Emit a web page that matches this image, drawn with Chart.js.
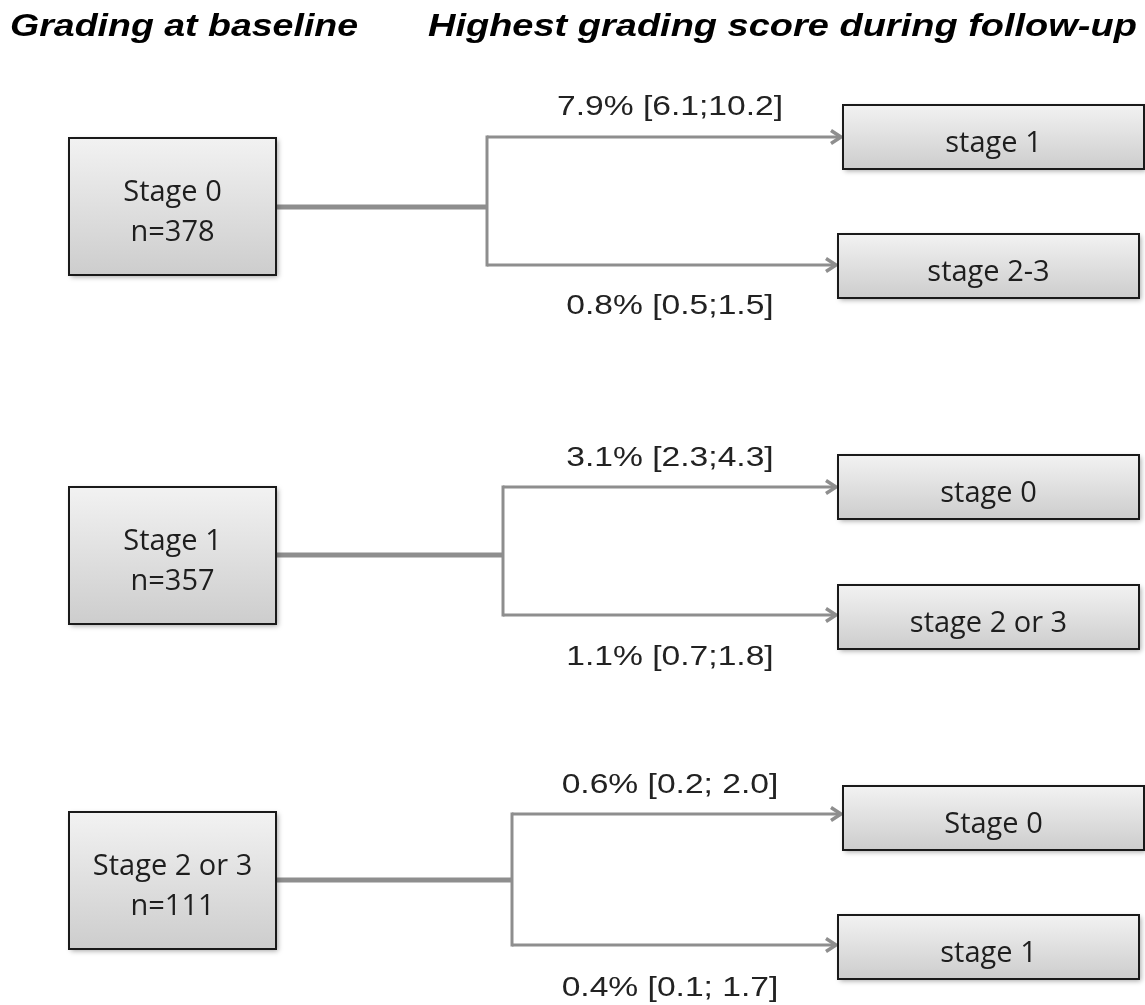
<!DOCTYPE html>
<html>
<head>
<meta charset="utf-8">
<script src="https://cdn.jsdelivr.net/npm/chart.js@4"></script>
<style>
    body { margin: 0; background: #fff; }
    #wrap { width: 1145px; height: 1005px; position: relative; }
</style>
</head>
<body>
<div id="wrap"><canvas id="flowChart"></canvas></div>
<script>
// Data
const baselineStages = ['Stage 0', 'Stage 1', 'Stage 2 or 3'];
const baselineN = [378, 357, 111];
const upperTargets = ['stage 1', 'stage 0', 'Stage 0'];
const lowerTargets = ['stage 2-3', 'stage 2 or 3', 'stage 1'];
const upperLabels = ['7.9% [6.1;10.2]', '3.1% [2.3;4.3]', '0.6% [0.2; 2.0]'];
const lowerLabels = ['0.8% [0.5;1.5]', '1.1% [0.7;1.8]', '0.4% [0.1; 1.7]'];
const headers = ['Grading at baseline', 'Highest grading score during follow-up'];

// Layout (diagram units, same as pixels)
const layout = {
    leftBox: { x: 69, w: 207, h: 137, top: [138, 487, 812] },
    stemY: [207, 555, 880],
    branchX: [487, 503, 512],
    upperY: [137, 487, 814],
    lowerY: [265, 615, 945],
    upperBox: { x: [843, 838, 843], top: [105, 455, 786] },
    lowerBox: { x: [838, 838, 838], top: [234, 585, 915] },
    rightW: 301,
    rightH: 64,
    labelX: 670,
    upperLabelBase: [115, 466, 793],
    lowerLabelBase: [314, 665, 996],
    headerX: [10, 428],
    headerBase: 36
};

const lineColor = '#8e8e8e';

function drawBox(ctx, x0, y0, x1, y1) {
    ctx.save();
    ctx.shadowColor = 'rgba(0,0,0,0.35)';
    ctx.shadowBlur = 5;
    ctx.shadowOffsetX = 2;
    ctx.shadowOffsetY = 2;
    const grad = ctx.createLinearGradient(0, y0, 0, y1);
    grad.addColorStop(0, '#f2f2f2');
    grad.addColorStop(1, '#cdcdcd');
    ctx.fillStyle = grad;
    ctx.fillRect(x0, y0, x1 - x0, y1 - y0);
    ctx.restore();
    ctx.strokeStyle = '#1a1a1a';
    ctx.lineWidth = 2;
    ctx.strokeRect(x0, y0, x1 - x0, y1 - y0);
}

function drawArrow(ctx, x0, y, x1) {
    ctx.beginPath();
    ctx.moveTo(x0, y);
    ctx.lineTo(x1 - 4, y);
    ctx.stroke();
    ctx.save();
    ctx.lineWidth = 3.5;
    ctx.lineJoin = 'miter';
    ctx.beginPath();
    ctx.moveTo(x1 - 12, y - 6.5);
    ctx.lineTo(x1 - 2, y);
    ctx.lineTo(x1 - 12, y + 6.5);
    ctx.stroke();
    ctx.restore();
}

// Horizontally stretched text, like the original figure
function wideText(ctx, text, x, y, align, stretch) {
    ctx.save();
    ctx.translate(x, y);
    ctx.scale(stretch, 1);
    ctx.textAlign = align;
    ctx.fillText(text, 0, 0);
    ctx.restore();
}

const flowPlugin = {
    id: 'flow',
    afterDraw(chart) {
        const ctx = chart.ctx;
        const sx = v => chart.scales.x.getPixelForValue(v);
        const sy = v => chart.scales.y.getPixelForValue(v);
        ctx.save();

        // Headers
        ctx.fillStyle = '#000';
        ctx.font = 'italic bold 31px "Liberation Sans", Arial, sans-serif';
        ctx.textBaseline = 'alphabetic';
        wideText(ctx, headers[0], sx(layout.headerX[0]), sy(layout.headerBase), 'left', 1.21);
        wideText(ctx, headers[1], sx(layout.headerX[1]), sy(layout.headerBase), 'left', 1.225);

        baselineStages.forEach((stage, i) => {
            const lb = layout.leftBox;
            const bx0 = sx(lb.x), bx1 = sx(lb.x + lb.w);
            const by0 = sy(lb.top[i]), by1 = sy(lb.top[i] + lb.h);
            const bx = sx(layout.branchX[i]);
            const uy = sy(layout.upperY[i]), ly = sy(layout.lowerY[i]);
            const ux1 = sx(layout.upperBox.x[i]), lx1 = sx(layout.lowerBox.x[i]);

            // Connectors
            ctx.strokeStyle = lineColor;
            ctx.lineCap = 'butt';
            ctx.lineWidth = 5;
            ctx.beginPath();
            ctx.moveTo(bx1, sy(layout.stemY[i]));
            ctx.lineTo(bx, sy(layout.stemY[i]));
            ctx.stroke();
            ctx.lineWidth = 3;
            ctx.beginPath();
            ctx.moveTo(bx, uy - 1.5);
            ctx.lineTo(bx, ly + 1.5);
            ctx.stroke();
            drawArrow(ctx, bx, uy, ux1);
            drawArrow(ctx, bx, ly, lx1);

            // Baseline box
            drawBox(ctx, bx0, by0, bx1, by1);
            ctx.fillStyle = '#1e1e1e';
            ctx.font = '29px "Open Sans", "Noto Sans", sans-serif';
            ctx.textAlign = 'center';
            ctx.textBaseline = 'alphabetic';
            const cx = (bx0 + bx1) / 2, cy = (by0 + by1) / 2;
            ctx.fillText(stage, cx, cy - 6);
            ctx.fillText('n=' + baselineN[i], cx, cy + 34);

            // Follow-up boxes
            const uTop = sy(layout.upperBox.top[i]);
            const lTop = sy(layout.lowerBox.top[i]);
            drawBox(ctx, ux1, uTop, ux1 + layout.rightW, uTop + layout.rightH);
            drawBox(ctx, lx1, lTop, lx1 + layout.rightW, lTop + layout.rightH);
            ctx.fillStyle = '#1e1e1e';
            ctx.fillText(upperTargets[i], ux1 + layout.rightW / 2, uTop + layout.rightH / 2 + 15);
            ctx.fillText(lowerTargets[i], lx1 + layout.rightW / 2, lTop + layout.rightH / 2 + 15);

            // Percentages
            ctx.font = '28px "Liberation Sans", Arial, sans-serif';
            ctx.fillStyle = '#222';
            wideText(ctx, upperLabels[i], sx(layout.labelX), sy(layout.upperLabelBase[i]), 'center', 1.2);
            wideText(ctx, lowerLabels[i], sx(layout.labelX), sy(layout.lowerLabelBase[i]), 'center', 1.2);
        });
        ctx.restore();
    }
};

const flowCtx = document.getElementById('flowChart').getContext('2d');
const flowChart = new Chart(flowCtx, {
    type: 'scatter',
    data: { datasets: [] },
    options: {
        responsive: true,
        maintainAspectRatio: false,
        animation: false,
        layout: { padding: 0 },
        plugins: {
            legend: { display: false },
            tooltip: { enabled: false }
        },
        scales: {
            x: { type: 'linear', min: 0, max: 1145, display: false },
            y: { type: 'linear', min: 0, max: 1005, reverse: true, display: false }
        }
    },
    plugins: [flowPlugin]
});
</script>
</body>
</html>
